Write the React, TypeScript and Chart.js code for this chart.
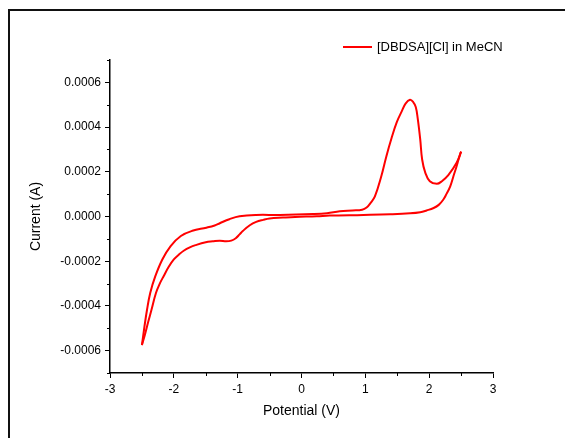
import React, { useEffect, useRef } from "react";
import { Chart, registerables } from "chart.js";

Chart.register(...registerables);

// Cathodic sweep: 2.5 V -> -2.5 V
const cathodicV = [2.5, 2.46, 2.43, 2.38, 2.33, 2.27, 2.22, 2.15, 2.07, 1.96, 1.86, 1.7, 1.39, 0.97, 0.44, 0.24, -0.1, -0.29, -0.5, -0.6, -0.71, -0.81, -0.92, -0.97, -1.03, -1.1, -1.18, -1.28, -1.39, -1.5, -1.66, -1.75, -1.84, -1.92, -2.0, -2.08, -2.16, -2.22, -2.28, -2.35, -2.4, -2.45, -2.5];
const cathodicI = [2.9e-4, 2.55e-4, 2.25e-4, 1.8e-4, 1.35e-4, 1.0e-4, 7.5e-5, 5.2e-5, 3.8e-5, 2.7e-5, 1.9e-5, 1.4e-5, 1.0e-5, 7e-6, 4e-6, 1e-6, -2e-6, -5e-6, -9e-6, -1.5e-5, -2.4e-5, -3.9e-5, -6.5e-5, -8.0e-5, -9.7e-5, -1.08e-4, -1.11e-4, -1.08e-4, -1.11e-4, -1.15e-4, -1.28e-4, -1.38e-4, -1.52e-4, -1.7e-4, -1.92e-4, -2.25e-4, -2.67e-4, -3.0e-4, -3.42e-4, -4.17e-4, -4.7e-4, -5.25e-4, -5.75e-4];

// Anodic sweep: -2.5 V -> 2.5 V
const anodicV = [-2.5, -2.46, -2.42, -2.37, -2.29, -2.18, -2.05, -1.89, -1.71, -1.49, -1.36, -1.28, -1.13, -0.97, -0.71, -0.34, 0.18, 0.4, 0.6, 0.8, 0.95, 1.02, 1.08, 1.15, 1.25, 1.33, 1.41, 1.49, 1.57, 1.63, 1.7, 1.75, 1.79, 1.82, 1.86, 1.89, 1.94, 2.01, 2.12, 2.2, 2.3, 2.43, 2.5];
const anodicI = [-5.75e-4, -4.92e-4, -4.17e-4, -3.42e-4, -2.67e-4, -1.92e-4, -1.32e-4, -8.7e-5, -6.4e-5, -5.0e-5, -4.0e-5, -3.0e-5, -1.2e-5, 1e-6, 7e-6, 7e-6, 1.1e-5, 1.5e-5, 2.4e-5, 2.7e-5, 3.0e-5, 4.0e-5, 6.0e-5, 9.0e-5, 1.8e-4, 2.7e-4, 3.5e-4, 4.2e-4, 4.7e-4, 5.05e-4, 5.22e-4, 5.12e-4, 4.9e-4, 4.4e-4, 3.45e-4, 2.55e-4, 1.95e-4, 1.58e-4, 1.46e-4, 1.58e-4, 1.85e-4, 2.4e-4, 2.9e-4];

const xMajorTicks = [-3, -2, -1, 0, 1, 2, 3];
const xMinorTicks = [-2.5, -1.5, -0.5, 0.5, 1.5, 2.5];
const yMajorTicks = [-0.0006, -0.0004, -0.0002, 0, 0.0002, 0.0004, 0.0006];
const yMinorTicks = [-0.0007, -0.0005, -0.0003, -0.0001, 0.0001, 0.0003, 0.0005, 0.0007];

const seriesLabel = "[DBDSA][Cl] in MeCN";
const xTitle = "Potential (V)";
const yTitle = "Current (A)";

const FONT = "'Liberation Sans', Arial, sans-serif";
const RED = "#ff0000";

const decoPlugin = {
  id: "deco",
  beforeDraw(chart: any) {
    const ctx = chart.ctx;
    ctx.save();
    ctx.fillStyle = "#ffffff";
    ctx.fillRect(0, 0, chart.width, chart.height);
    ctx.strokeStyle = "#111111";
    ctx.lineWidth = 2;
    ctx.beginPath();
    ctx.moveTo(9, chart.height + 5);
    ctx.lineTo(9, 10);
    ctx.lineTo(chart.width + 5, 10);
    ctx.stroke();
    ctx.restore();
  },
  afterDraw(chart: any) {
    const ctx = chart.ctx;
    const xs = chart.scales.x;
    const ys = chart.scales.y;
    const area = chart.chartArea;
    ctx.save();
    ctx.strokeStyle = "#000000";
    ctx.lineWidth = 1;
    ctx.beginPath();
    yMinorTicks.forEach((v) => {
      const py = Math.round(ys.getPixelForValue(v)) + 0.5;
      ctx.moveTo(area.left - 3, py);
      ctx.lineTo(area.left, py);
    });
    xMinorTicks.forEach((v) => {
      const px = Math.round(xs.getPixelForValue(v)) + 0.5;
      ctx.moveTo(px, area.bottom);
      ctx.lineTo(px, area.bottom + 3);
    });
    ctx.stroke();

    // legend
    ctx.strokeStyle = RED;
    ctx.lineWidth = 2;
    ctx.beginPath();
    ctx.moveTo(343, 47);
    ctx.lineTo(372, 47);
    ctx.stroke();
    ctx.fillStyle = "#000000";
    ctx.font = `13px ${FONT}`;
    ctx.textAlign = "left";
    ctx.textBaseline = "middle";
    ctx.fillText(seriesLabel, 377, 47);
    ctx.restore();
  },
};

export default function App() {
  const ref = useRef<HTMLCanvasElement | null>(null);
  useEffect(() => {
    if (!ref.current) return;
    const cathodic = cathodicV.map((v, i) => ({ x: v, y: cathodicI[i] }));
    const anodic = anodicV.map((v, i) => ({ x: v, y: anodicI[i] }));
    const common = {
      showLine: true,
      borderColor: RED,
      backgroundColor: RED,
      borderWidth: 2,
      pointRadius: 0,
      tension: 0.4,
      fill: false,
    };
    const chart = new Chart(ref.current, {
      type: "scatter",
      data: {
        datasets: [
          { label: seriesLabel, data: cathodic, ...common },
          { label: seriesLabel, data: anodic, ...common },
        ],
      },
      options: {
        animation: false,
        responsive: false,
        maintainAspectRatio: false,
        layout: { padding: { left: 0, top: 60, right: 72, bottom: 0 } },
        plugins: {
          legend: { display: false },
          tooltip: { enabled: false },
        },
        scales: {
          x: {
            type: "linear",
            position: "bottom",
            min: -3,
            max: 3,
            afterFit: (s: any) => {
              s.height = 65;
            },
            afterBuildTicks: (s: any) => {
              s.ticks = xMajorTicks.map((v) => ({ value: v }));
            },
            grid: {
              display: true,
              drawOnChartArea: false,
              drawTicks: true,
              tickLength: 5,
              color: "#000000",
              lineWidth: 1,
            },
            border: { display: true, color: "#000000", width: 1.5 },
            ticks: {
              color: "#000000",
              padding: 4,
              maxRotation: 0,
              font: { family: FONT, size: 12 },
              callback: (v: any) => String(v),
            },
            title: {
              display: true,
              text: xTitle,
              color: "#000000",
              font: { family: FONT, size: 14 },
              padding: { top: 0, bottom: 18.6 },
            },
          },
          y: {
            type: "linear",
            position: "left",
            min: -0.0007,
            max: 0.0007,
            afterFit: (s: any) => {
              s.width = 110;
            },
            afterBuildTicks: (s: any) => {
              s.ticks = yMajorTicks.map((v) => ({ value: v }));
            },
            grid: {
              display: true,
              drawOnChartArea: false,
              drawTicks: true,
              tickLength: 5,
              color: "#000000",
              lineWidth: 1,
            },
            border: { display: true, color: "#000000", width: 1.5 },
            ticks: {
              color: "#000000",
              padding: 4,
              font: { family: FONT, size: 12 },
              callback: (v: any) => {
                const n = Number(v);
                return Math.abs(n) < 1e-12 ? "0.0000" : n.toFixed(4);
              },
            },
            title: {
              display: true,
              text: yTitle,
              color: "#000000",
              font: { family: FONT, size: 14 },
              padding: { top: 27.6, bottom: 0 },
            },
          },
        },
      },
      plugins: [decoPlugin],
    });
    return () => chart.destroy();
  }, []);

  return (
    <div style={{ position: "absolute", left: 0, top: 0, width: 565, height: 438 }}>
      <canvas ref={ref} width={565} height={438} style={{ display: "block" }} />
    </div>
  );
}
